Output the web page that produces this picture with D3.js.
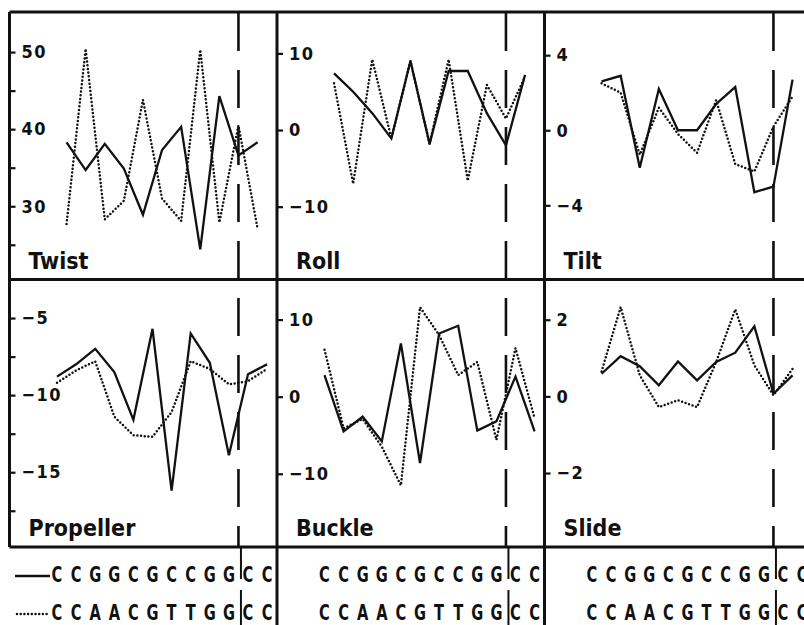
<!DOCTYPE html>
<html>
<head>
<meta charset="utf-8">
<script src="https://cdn.jsdelivr.net/npm/d3@7"></script>
<style>
    body { margin: 0; background: #fff; }
    svg text { font-family: "DejaVu Sans Condensed", "DejaVu Sans", sans-serif; font-weight: bold; fill: #111; }
</style>
</head>
<body>
<div id="chart"></div>
<script>
// Base pair sequences (solid line = first, dotted line = second)
var seqSolid = "CCGGCGCCGGCC".split("");
var seqDotted = "CCAACGTTGGCC".split("");

// Step parameters (11 steps)
var twistSolid  = [38.3, 34.7, 38.1, 34.9, 28.9, 37.3, 40.3, 24.4, 44.3, 36.6, 38.3];
var twistDotted = [27.7, 50.4, 28.3, 30.7, 43.8, 31.0, 28.1, 50.3, 27.9, 40.5, 27.1];
var rollSolid   = [7.4, 5.0, 2.2, -1.1, 9.0, -1.8, 7.7, 7.7, 2.2, -2.0, 7.2];
var rollDotted  = [6.1, -7.0, 9.2, -1.1, 9.0, -1.8, 9.2, -6.6, 5.9, 1.5, 7.0];
var tiltSolid   = [2.6, 2.9, -2.0, 2.2, 0.0, 0.0, 1.4, 2.3, -3.3, -3.0, 2.7];
var tiltDotted  = [2.5, 2.0, -1.3, 1.2, -0.2, -1.2, 1.6, -1.8, -2.2, 0.2, 1.8];
var slideSolid  = [0.59, 1.05, 0.79, 0.29, 0.91, 0.42, 0.90, 1.14, 1.83, 0.07, 0.55];
var slideDotted = [0.65, 2.33, 0.55, -0.28, -0.10, -0.28, 0.90, 2.27, 0.81, 0.03, 0.72];

// Base pair parameters (12 base pairs)
var propellerSolid  = [-8.8, -8.0, -7.0, -8.5, -11.6, -5.7, -16.2, -6.0, -7.9, -13.9, -8.65, -8.0];
var propellerDotted = [-9.2, -8.4, -7.8, -11.4, -12.6, -12.7, -11.1, -7.8, -8.3, -9.3, -9.1, -8.3];
var buckleSolid     = [2.8, -4.5, -2.6, -5.8, 6.9, -8.6, 8.2, 9.2, -4.4, -3.2, 2.6, -4.5];
var buckleDotted    = [6.1, -4.1, -2.9, -6.5, -11.5, 11.6, 8.0, 2.8, 4.5, -5.6, 6.3, -2.8];

// Tick labels
var twistTicks = [50, 40, 30], twistMinor = [45, 35, 25];
var rollTicks = [10, 0, -10];
var tiltTicks = [4, 0, -4];
var propellerTicks = [-5, -10, -15], propellerMinor = [-7.5, -12.5, -17.5];
var buckleTicks = [10, 0, -10];
var slideTicks = [2, 0, -2];

// Panel table built from the arrays above
var panels = [
    { title: "Twist",     solid: twistSolid,     dotted: twistDotted,     ticks: twistTicks,     minor: twistMinor,     domain: [20.5, 55.2],  step: true,  row: 0, col: 0 },
    { title: "Roll",      solid: rollSolid,      dotted: rollDotted,      ticks: rollTicks,      minor: [],             domain: [-19.5, 15.4], step: true,  row: 0, col: 1 },
    { title: "Tilt",      solid: tiltSolid,      dotted: tiltDotted,      ticks: tiltTicks,      minor: [],             domain: [-7.95, 6.3],  step: true,  row: 0, col: 2 },
    { title: "Propeller", solid: propellerSolid, dotted: propellerDotted, ticks: propellerTicks, minor: propellerMinor, domain: [-19.85, -2.5], step: false, row: 1, col: 0 },
    { title: "Buckle",    solid: buckleSolid,    dotted: buckleDotted,    ticks: buckleTicks,    minor: [],             domain: [-19.5, 15.2], step: false, row: 1, col: 1 },
    { title: "Slide",     solid: slideSolid,     dotted: slideDotted,     ticks: slideTicks,     minor: [],             domain: [-3.93, 3.05], step: true,  row: 1, col: 2 }
];

// Layout
var width = 804, height = 625;
var colLeft = [9.5, 277, 544.5];
var rowTop = [12, 279.5];
var panelHeight = 267.5;
var frameBottom = rowTop[1] + panelHeight;

var svg = d3.select("#chart").append("svg")
    .attr("width", width)
    .attr("height", height);

// x scale over base pair index (steps sit half way between pairs)
var xScale = d3.scaleLinear().domain([0, 11]).range([47.5, 47.5 + 11 * 19.1]);

var lineGen = function (yScale, step) {
    return d3.line()
        .x(function (d, i) { return xScale(step ? i + 0.5 : i); })
        .y(function (d) { return yScale(d); });
};

var fmt = function (d) { return d < 0 ? "\u2212" + Math.abs(d) : String(d); };

panels.forEach(function (p) {
    var g = svg.append("g")
        .attr("transform", "translate(" + colLeft[p.col] + "," + rowTop[p.row] + ")");

    var yScale = d3.scaleLinear().domain(p.domain).range([panelHeight, 0]);

    // Minor ticks
    if (p.minor.length) {
        var minorAxis = g.append("g")
            .call(d3.axisRight(yScale).tickValues(p.minor).tickSize(6).tickFormat(""));
        minorAxis.select(".domain").remove();
        minorAxis.selectAll("line").attr("stroke", "#111").attr("stroke-width", 2.2);
    }

    // Major ticks with labels
    var axis = g.append("g")
        .call(d3.axisRight(yScale).tickValues(p.ticks).tickSize(6).tickPadding(6).tickFormat(fmt));
    axis.select(".domain").remove();
    axis.selectAll("line").attr("stroke", "#111").attr("stroke-width", 2.2);
    axis.selectAll("text")
        .attr("font-size", 18)
        .attr("letter-spacing", 1.5)
        .attr("fill", "#111");

    // Dotted series
    g.append("path")
        .datum(p.dotted)
        .attr("fill", "none")
        .attr("stroke", "#111")
        .attr("stroke-width", 2.5)
        .attr("stroke-linecap", "round")
        .attr("stroke-dasharray", "0,3.7")
        .attr("d", lineGen(yScale, p.step));

    // Solid series
    g.append("path")
        .datum(p.solid)
        .attr("fill", "none")
        .attr("stroke", "#111")
        .attr("stroke-width", 2.3)
        .attr("d", lineGen(yScale, p.step));

    // Panel title
    g.append("text")
        .attr("x", 19)
        .attr("y", panelHeight - 11)
        .attr("font-size", 23)
        .text(p.title);
});

// Dashed marker between base pairs 10 and 11 in every column
colLeft.forEach(function (left) {
    svg.append("line")
        .attr("x1", left + xScale(9.5)).attr("x2", left + xScale(9.5))
        .attr("y1", rowTop[0] + 1).attr("y2", frameBottom)
        .attr("stroke", "#111")
        .attr("stroke-width", 2.6)
        .attr("stroke-dasharray", "38,19");
});

// Frame
var frame = svg.append("g").attr("stroke", "#111").attr("stroke-width", 3);
rowTop.concat([frameBottom]).forEach(function (y) {
    frame.append("line").attr("x1", colLeft[0]).attr("x2", width).attr("y1", y).attr("y2", y);
});
frame.append("line").attr("x1", colLeft[0]).attr("x2", colLeft[0]).attr("y1", rowTop[0]).attr("y2", frameBottom);
[colLeft[1], colLeft[2]].forEach(function (x) {
    frame.append("line").attr("x1", x).attr("x2", x).attr("y1", rowTop[0]).attr("y2", height);
});

// Sequences under each column
var seqRows = [{ seq: seqSolid, base: 582 }, { seq: seqDotted, base: 620 }];
colLeft.forEach(function (left, c) {
    var sg = svg.append("g").attr("transform", "translate(" + left + ",0)");

    seqRows.forEach(function (r) {
        sg.selectAll(null)
            .data(r.seq)
            .enter()
            .append("text")
            .attr("text-anchor", "middle")
            .attr("font-size", 22)
            .attr("transform", function (d, i) { return "translate(" + xScale(i) + "," + r.base + ") scale(0.74,1)"; })
            .text(function (d) { return d; });
    });

    // Small bars marking the same break as the dashed line
    sg.append("line")
        .attr("x1", xScale(9.5) + 2.5).attr("x2", xScale(9.5) + 2.5)
        .attr("y1", frameBottom).attr("y2", 579)
        .attr("stroke", "#111").attr("stroke-width", 2);
    sg.append("line")
        .attr("x1", xScale(9.5) + 2.5).attr("x2", xScale(9.5) + 2.5)
        .attr("y1", 590).attr("y2", height)
        .attr("stroke", "#111").attr("stroke-width", 2);
});

// Legend strokes before the first sequences
svg.append("line")
    .attr("x1", 15).attr("x2", 50).attr("y1", 576).attr("y2", 576)
    .attr("stroke", "#111").attr("stroke-width", 2.5);
svg.append("line")
    .attr("x1", 17).attr("x2", 50).attr("y1", 614).attr("y2", 614)
    .attr("stroke", "#111").attr("stroke-width", 2.5)
    .attr("stroke-linecap", "round")
    .attr("stroke-dasharray", "0,3.7");
</script>
</body>
</html>
